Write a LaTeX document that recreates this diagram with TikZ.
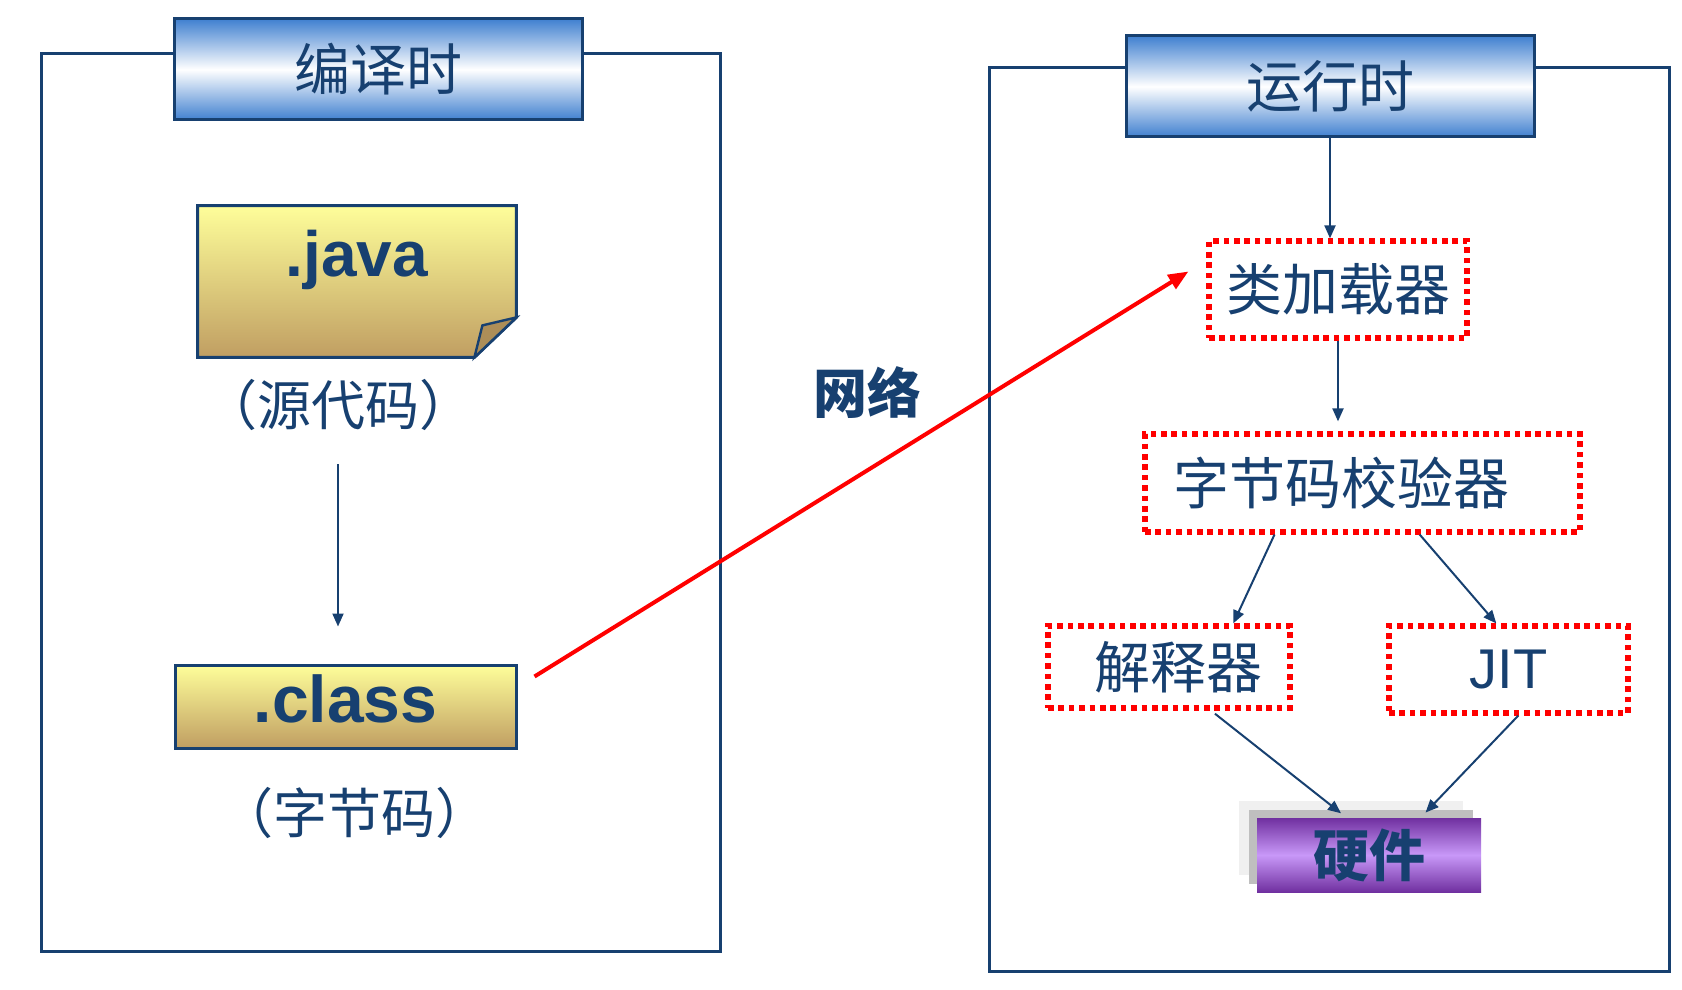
\documentclass[tikz,border=0pt]{standalone}
\usepackage{fontspec}
\setmainfont{Liberation Sans}
\newfontfamily\cjk{Noto Sans CJK SC}
\usetikzlibrary{arrows.meta,calc,shadows,backgrounds}

\definecolor{navy}{RGB}{23,64,112}
\definecolor{titleblue}{RGB}{64,128,208}
\definecolor{noteyellow}{RGB}{254,254,154}
\definecolor{notetan}{RGB}{192,158,98}
\definecolor{hwpurple}{RGB}{112,48,160}
\definecolor{hwlilac}{RGB}{200,152,248}

\tikzset{
    stageframe/.style={draw=navy, line width=1.5pt},
    titlebox/.style={draw=navy, line width=1.5pt, top color=titleblue, bottom color=titleblue, middle color=white,
        minimum width=204pt, minimum height=50.5pt, inner sep=0pt, text=navy, font=\cjk\fontsize{28}{30}\selectfont},
    dotbox/.style={draw=red, line width=2.6pt, dash pattern=on 2.8pt off 2.4pt, inner sep=0pt,
        text=navy, font=\cjk\fontsize{28}{30}\selectfont},
    subtext/.style={inner sep=0pt, text=navy, font=\cjk\fontsize{27}{30}\selectfont},
    conn/.style={draw=navy, line width=1pt, -{Triangle[length=6.5pt,width=5.5pt]}},
}

\begin{document}
\begin{tikzpicture}[x=0.5pt,y=-0.5pt]
        \useasboundingbox (0,0) rectangle (1682,990);

        % Frames
        \draw[stageframe] (41,54) rectangle (720,951);
        \draw[stageframe] (989,68) rectangle (1669,971);

        % Compile time
        \node[titlebox] (ct) at (378.5,69.5) {\raisebox{2.5pt}{编译时}};
        \node[inner sep=0pt, minimum width=159pt, text height=35pt, text depth=40.5pt, text=navy,
            font=\bfseries\fontsize{32}{36}\selectfont] (java) at (357,281.5) {.java};
        \begin{scope}[on background layer]
            \draw[draw=navy, line width=1.5pt, top color=noteyellow, bottom color=notetan]
                (java.north west) -- (java.north east) -- ([yshift=20pt]java.south east)
                -- ([xshift=-21pt]java.south east) -- (java.south west) -- cycle;
            \draw[draw=navy, line width=1.2pt, fill=notetan!90!black]
                ([yshift=20pt]java.south east) -- ([shift={(-17pt,16pt)}]java.south east)
                -- ([xshift=-21pt]java.south east) -- cycle;
        \end{scope}
        \node[subtext] (src) at (338,405) {（源代码）};
        \node[draw=navy, line width=1.5pt, top color=noteyellow, bottom color=notetan, inner sep=0pt,
            minimum width=170.5pt, text height=28.5pt, text depth=13pt, text=navy,
            font=\bfseries\fontsize{33}{36}\selectfont] (cls) at (345.5,706.5) {.class};
        \node[subtext] (bc) at (354,813) {（字节码）};
        \draw[conn, shorten <=16.5pt, shorten >=18.5pt] (src) -- (src |- cls.north);

        % Network
        \node[text=navy, font=\cjk\bfseries\fontsize{27}{30}\selectfont] (net) at (867,393) {网络};

        % Run time
        \node[titlebox] (rt) at (1330,86.5) {\raisebox{1.5pt}{运行时}};
        \node[dotbox, minimum width=129pt, minimum height=48.5pt] (loader) at (1338,289.5) {类加载器};
        \node[dotbox, minimum width=217.5pt, minimum height=49pt] (verifier) at (1362.5,483) {字节码校验器\hspace*{21pt}};
        \node[dotbox, minimum width=121pt, minimum height=41pt] (interp) at (1169,667) {\hspace*{9pt}解释器};
        \node[dotbox, minimum width=119.5pt, minimum height=43.5pt, font=\fontsize{28}{30}\selectfont] (jit) at (1508.5,669.5) {JIT};
        \node[top color=hwpurple, bottom color=hwpurple, middle color=hwlilac, inner sep=0pt,
            minimum width=112pt, minimum height=37pt, text=navy, font=\cjk\bfseries\fontsize{28}{30}\selectfont,
            general shadow={shadow xshift=-9pt, shadow yshift=8.5pt, fill=black!6, draw=none},
            general shadow={shadow xshift=-4pt, shadow yshift=4pt, fill=black!25, draw=none}] (hw) at (1369,855) {硬件};

        \draw[conn] (rt.south) -- (rt.south |- loader.north);
        \draw[conn, shorten >=5pt] (loader.south) -- (loader.south |- verifier.north);
        \draw[conn] ($(verifier.south west)!0.3!(verifier.south east)$) -- ($(interp.north west)!0.76!(interp.north east)$);
        \draw[conn] ($(verifier.south west)!0.63!(verifier.south east)$) -- ($(jit.north west)!0.45!(jit.north east)$);
        \draw[conn, shorten <=2.5pt, shorten >=3.5pt] ($(interp.south west)!0.67!(interp.south east)$) -- ($(hw.north west)!0.4!(hw.north east)$);
        \draw[conn, shorten >=3.5pt] ($(jit.south west)!0.54!(jit.south east)$) -- ($(hw.north west)!0.73!(hw.north east)$);

        % Over the network
        \draw[red, line width=2pt, -{Triangle[length=10pt,width=8pt]}]
            ([shift={(8.5pt,-6.5pt)}]cls.north east) -- ([shift={(-9pt,9pt)}]loader.west);
\end{tikzpicture}
\end{document}
